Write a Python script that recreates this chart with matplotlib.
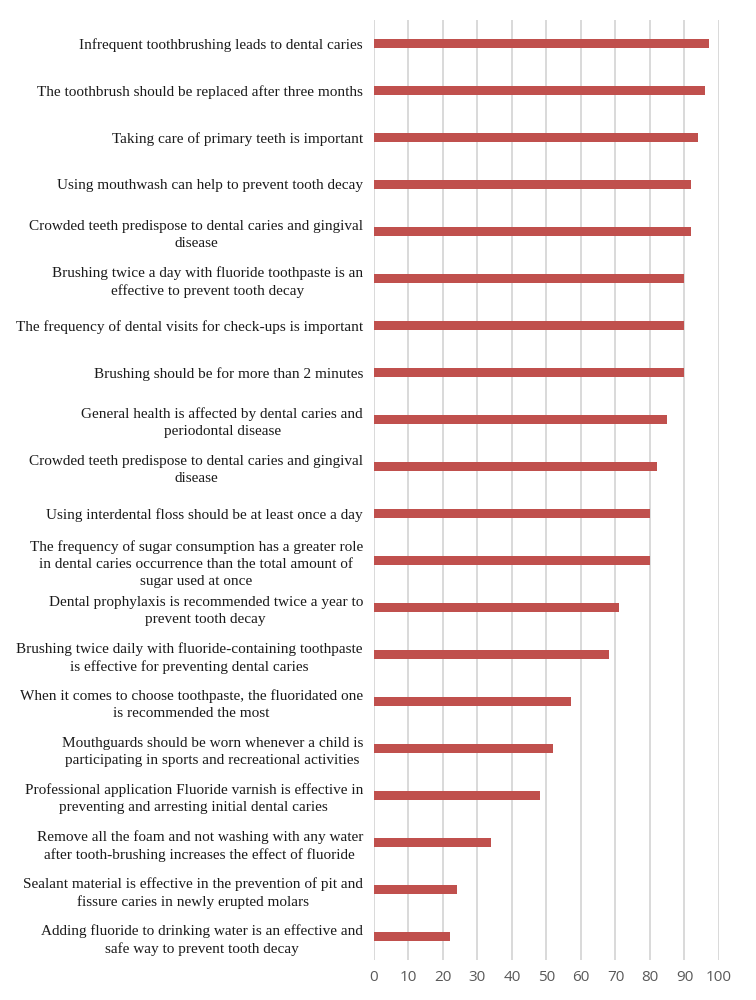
import matplotlib
matplotlib.use("Agg")
import matplotlib.pyplot as plt

labels = [
    "Infrequent toothbrushing leads to dental caries",
    "The toothbrush should be replaced after three months",
    "Taking care of primary teeth is important",
    "Using mouthwash can help to prevent tooth decay",
    "Crowded teeth predispose to dental caries and gingival\ndisease",
    "Brushing twice a day with fluoride toothpaste is an\neffective to prevent tooth decay",
    "The frequency of dental visits for check-ups is important",
    "Brushing should be for more than 2 minutes",
    "General health is affected by dental caries and\nperiodontal disease",
    "Crowded teeth predispose to dental caries and gingival\ndisease",
    "Using interdental floss should be at least once a day",
    "The frequency of sugar consumption has a greater role\nin dental caries occurrence than the total amount of\nsugar used at once",
    "Dental prophylaxis is recommended twice a year to\nprevent tooth decay",
    "Brushing twice daily with fluoride-containing toothpaste\nis effective for preventing dental caries",
    "When it comes to choose toothpaste, the fluoridated one\nis recommended the most",
    "Mouthguards should be worn whenever a child is\nparticipating in sports and recreational activities",
    "Professional application Fluoride varnish is effective in\npreventing and arresting initial dental caries",
    "Remove all the foam and not washing with any water\nafter tooth-brushing increases the effect of fluoride",
    "Sealant material is effective in the prevention of pit and\nfissure caries in newly erupted molars",
    "Adding fluoride to drinking water is an effective and\nsafe way to prevent tooth decay",
]
values = [97, 96, 94, 92, 92, 90, 90, 90, 85, 82, 80, 80, 71, 68, 57, 52, 48, 34, 24, 22]
xticks = list(range(0, 101, 10))

fig = plt.figure(figsize=(7.56, 10), dpi=100)
ax = fig.add_axes([0.4947, 0.04, 0.4563, 0.94])

pos = list(range(len(values)))
ax.barh(pos, values, height=0.19, color="#C0504D", zorder=3)
ax.set_ylim(len(values) - 0.5, -0.5)
ax.set_xlim(0, 100)

ax.set_xticks(xticks)
ax.set_xticklabels([str(t) for t in xticks], color="#595959", fontsize=11, family="Open Sans")
ax.set_yticks(pos)
ax.set_yticklabels(labels, family="Liberation Serif", fontsize=11, color="#1a1a1a",
                   multialignment="center", linespacing=1.4)
ax.tick_params(axis="both", length=0)
ax.tick_params(axis="x", pad=7)
ax.tick_params(axis="y", pad=8)

ax.grid(axis="x", color="#D9D9D9", linewidth=1.4, zorder=0)
for s in ax.spines.values():
    s.set_visible(False)

fig.savefig("out.png", dpi=100, facecolor="white")
